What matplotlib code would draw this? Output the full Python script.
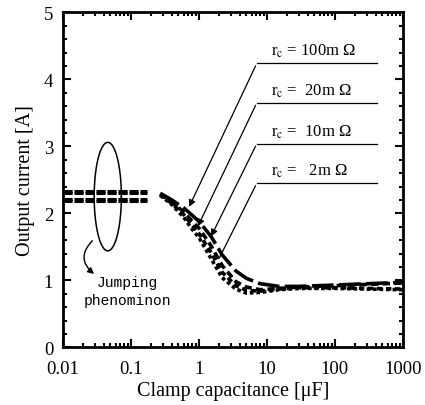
import matplotlib

matplotlib.use("Agg")

import numpy as np
import matplotlib.pyplot as plt
from matplotlib.patches import FancyArrowPatch
from matplotlib.ticker import FixedLocator, MultipleLocator, NullFormatter

plt.rcParams["font.family"] = "Liberation Serif"
plt.rcParams["mathtext.fontset"] = "stix"

# Flat region before the jump (same range for all series)
flat_x = [0.01, 0.17]
# Curves after the jump, shared capacitance points
cap_x = [0.27, 0.4, 0.6, 0.8, 1.0, 1.5, 2.2, 3.5, 5, 8, 15, 30, 100, 300, 1000]

series_names = ["100m", "20m", "10m", "2m"]
flat_levels = [2.33, 2.30, 2.22, 2.19]
cur_100m = [2.30, 2.20, 2.08, 1.97, 1.88, 1.66, 1.38, 1.14, 1.03, 0.95, 0.91, 0.91, 0.93, 0.95, 0.97]
cur_20m = [2.29, 2.17, 2.02, 1.88, 1.78, 1.52, 1.22, 0.98, 0.90, 0.86, 0.88, 0.90, 0.92, 0.94, 0.96]
cur_10m = [2.28, 2.15, 1.98, 1.82, 1.70, 1.42, 1.12, 0.92, 0.85, 0.84, 0.87, 0.89, 0.89, 0.88, 0.87]
cur_2m = [2.27, 2.13, 1.94, 1.76, 1.64, 1.33, 1.04, 0.87, 0.81, 0.82, 0.86, 0.88, 0.88, 0.87, 0.86]
curves = [cur_100m, cur_20m, cur_10m, cur_2m]
dashes = [(6, 1.5), (2, 1.2), (1.5, 1), (1, 0.8)]

# Annotation labels, their y level, and the point each one points to
label_texts = ["r$_{\\rm c}$ = 100m Ω", "r$_{\\rm c}$ =  20m Ω", "r$_{\\rm c}$ =  10m Ω", "r$_{\\rm c}$ =   2m Ω"]
label_y = [4.24, 3.65, 3.04, 2.45]
tip_x = [0.69, 0.93, 1.45, 1.9]
tip_y = [2.06, 1.77, 1.62, 1.29]

fig = plt.figure(figsize=(4.25, 4.06), dpi=100)
ax = fig.add_axes([0.148, 0.142, 0.80, 0.825])

for lvl, ys, d in zip(flat_levels, curves, dashes):
    ax.plot(flat_x, [lvl, lvl], color="black", lw=2.2, dashes=(3, 0.6))
    ax.plot(cap_x, ys, color="black", lw=2.6, dashes=d)

# labels with leader lines
for txt, ly, tx, ty in zip(label_texts, label_y, tip_x, tip_y):
    ax.plot([7.1, 415], [ly, ly], color="black", lw=0.9)
    ax.text(11.5, ly + 0.19, txt, fontsize=12, ha="left", va="center")
    style = "-" if txt.endswith("2m Ω") else "-|>"
    ax.add_patch(
        FancyArrowPatch((7.1, ly), (tx, ty), arrowstyle=style, mutation_scale=10, color="black", lw=0.9)
    )

# ellipse around the jumping region (drawn in log space)
t = np.linspace(0, 2 * np.pi, 200)
ax.plot(10 ** (-1.34 + 0.2 * np.cos(t)), 2.25 + 0.81 * np.sin(t), color="black", lw=1.1)

ax.add_patch(
    FancyArrowPatch(
        (0.029, 1.62), (0.031, 1.07), connectionstyle="arc3,rad=0.6", arrowstyle="-|>",
        mutation_scale=9, color="black", lw=1.0,
    )
)
ax.text(0.089, 0.84, "Jumping\nphenominon", family="Liberation Mono", fontsize=10.5,
        ha="center", va="center", linespacing=1.3)

ax.set_xscale("log")
ax.set_xlim(0.01, 1000)
ax.set_ylim(0, 5)
ax.set_xticks([0.01, 0.1, 1, 10, 100, 1000])
ax.set_xticklabels(["0.01", "0.1", "1", "10", "100", "1000"])
ax.xaxis.set_minor_locator(FixedLocator([m * 10.0 ** e for e in range(-2, 3) for m in range(2, 10)]))
ax.xaxis.set_minor_formatter(NullFormatter())
ax.yaxis.set_major_locator(MultipleLocator(1))
ax.yaxis.set_minor_locator(MultipleLocator(0.2))
ax.tick_params(which="both", direction="in", top=True, right=True, width=1.5)
ax.tick_params(which="major", length=6, labelsize=13.5)
ax.tick_params(axis="x", which="major", pad=9)
ax.tick_params(axis="y", which="major", pad=7)
ax.tick_params(which="minor", length=3)
for s in ax.spines.values():
    s.set_linewidth(2)

ax.set_xlabel("Clamp capacitance [μF]", fontsize=14.5, labelpad=3)
ax.set_ylabel("Output current [A]", fontsize=14.5, labelpad=6)

fig.savefig("out.png", dpi=100, facecolor="white")
